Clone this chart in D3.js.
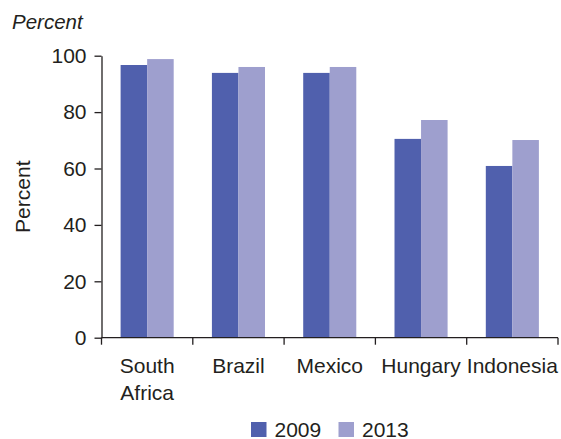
<!DOCTYPE html>
<html>
<head>
<meta charset="utf-8">
<script src="https://cdn.jsdelivr.net/npm/d3@7"></script>
<style>
  html, body { margin: 0; padding: 0; background: #fff; }
  svg { display: block; }
  text { font-family: "Liberation Sans", Arial, Helvetica, sans-serif; fill: #231f20; }
</style>
</head>
<body>
<svg id="chart" width="561" height="439"></svg>
<script>
const categories = [["South", "Africa"], ["Brazil"], ["Mexico"], ["Hungary"], ["Indonesia"]];
const seriesNames = ["2009", "2013"];
const values2009 = [96.7, 93.9, 93.9, 70.5, 60.9];
const values2013 = [98.8, 96.0, 96.0, 77.2, 70.1];
const yTicks = [0, 20, 40, 60, 80, 100];
const colors = ["#5060AD", "#9E9FCE"];

const FS = 21;
const svg = d3.select("#chart");
const margin = { left: 101.5, right: 3, top: 55.7, bottom: 101.3 };
const W = 561, H = 439;
const x0 = margin.left, x1 = W - margin.right;
const yTop = margin.top, yBot = H - margin.bottom;

const catKeys = categories.map(c => c.join(" "));
const x = d3.scaleBand().domain(catKeys).range([x0, x1]).padding(0);
const xs = d3.scaleBand().domain(seriesNames).range([0, x.bandwidth()]).paddingInner(0).paddingOuter(0.72);
const y = d3.scaleLinear().domain([0, 100]).range([yBot, yTop]);

const stroke = "#231f20";

// bars
const data = catKeys.map((k, i) => ({ key: k, vals: [values2009[i], values2013[i]] }));
const g = svg.append("g");
data.forEach(d => {
  seriesNames.forEach((s, j) => {
    g.append("rect")
      .attr("x", x(d.key) + xs(s))
      .attr("y", y(d.vals[j]))
      .attr("width", xs.bandwidth())
      .attr("height", y(0) - y(d.vals[j]))
      .attr("fill", colors[j]);
  });
});

// y axis
const yAxis = d3.axisLeft(y).tickValues(yTicks).tickSize(7).tickSizeOuter(0).tickPadding(8);
const ya = svg.append("g").attr("transform", `translate(${x0},0)`).call(yAxis);
ya.select(".domain").attr("stroke", stroke).attr("stroke-width", 1.3);
ya.selectAll(".tick line").attr("stroke", stroke).attr("stroke-width", 1.3);
ya.selectAll(".tick text").attr("font-size", FS).attr("fill", "#231f20")
  .style("font-family", '"Liberation Sans", Arial, sans-serif');

// x axis line and boundary ticks
const xa = svg.append("g");
xa.append("line").attr("x1", x0).attr("x2", x1).attr("y1", yBot).attr("y2", yBot)
  .attr("stroke", stroke).attr("stroke-width", 1.3);
const bounds = catKeys.map(k => x(k)).concat([x.range()[1]]);
bounds.forEach(b => {
  xa.append("line").attr("x1", b).attr("x2", b).attr("y1", yBot).attr("y2", yBot + 7)
    .attr("stroke", stroke).attr("stroke-width", 1.3);
});
categories.forEach((c, i) => {
  const t = xa.append("text")
    .attr("x", x(catKeys[i]) + x.bandwidth() / 2)
    .attr("y", 372.5)
    .attr("text-anchor", "middle")
    .attr("font-size", FS);
  c.forEach((line, li) => {
    t.append("tspan").attr("x", x(catKeys[i]) + x.bandwidth() / 2)
      .attr("dy", li === 0 ? 0 : 27).text(line);
  });
});

// y axis title
svg.append("text")
  .attr("transform", `translate(30,${(yTop + yBot) / 2}) rotate(-90)`)
  .attr("text-anchor", "middle")
  .attr("font-size", FS)
  .text("Percent");

// top unit label
svg.append("text")
  .attr("x", 12).attr("y", 29)
  .attr("font-size", 20.5)
  .attr("font-style", "italic")
  .text("Percent");

// legend
const legX = [251, 338.5];
seriesNames.forEach((s, j) => {
  svg.append("rect").attr("x", legX[j]).attr("y", 422).attr("width", 15.5).attr("height", 15)
    .attr("fill", colors[j]);
  svg.append("text").attr("x", legX[j] + 23.5).attr("y", 436.5).attr("font-size", FS).text(s);
});
</script>
</body>
</html>
